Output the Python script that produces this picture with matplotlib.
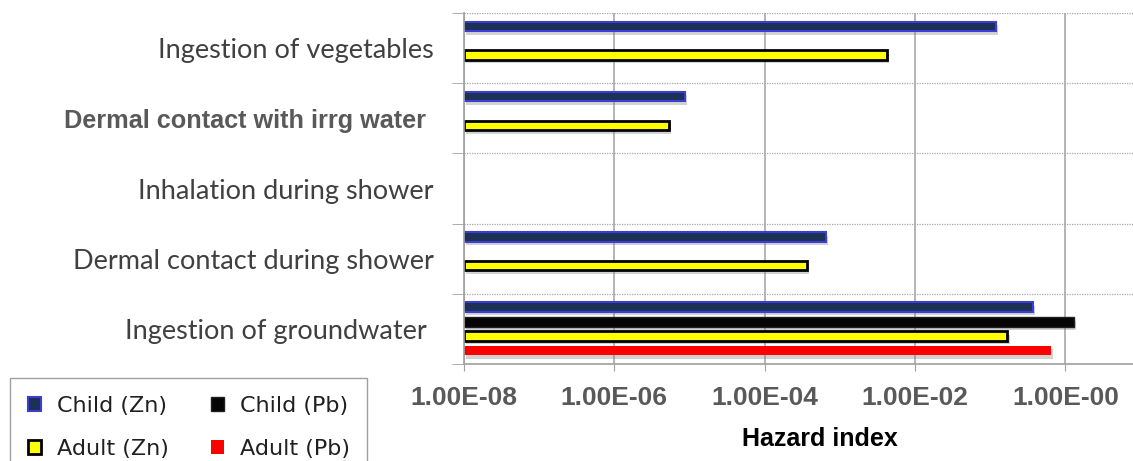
import numpy as np
import matplotlib
matplotlib.use("Agg")
import matplotlib.pyplot as plt
import matplotlib.patheffects as pe
from matplotlib.patches import Rectangle

# hazard index per exposure pathway (NaN = not shown)
categories = ["Ingestion of vegetables",
              "Dermal contact with irrg water ",
              "Inhalation during shower",
              "Dermal contact during shower",
              "Ingestion of groundwater "]
child_zn = [1.2e-1, 8.7e-6, np.nan, 6.5e-4, 3.7e-1]
child_pb = [np.nan, np.nan, np.nan, np.nan, 1.3]
adult_zn = [4.2e-3, 5.3e-6, np.nan, 3.7e-4, 1.7e-1]
adult_pb = [np.nan, np.nan, np.nan, np.nan, 6.5e-1]
series_names = ["Child (Zn)", "Child (Pb)", "Adult (Zn)", "Adult (Pb)"]
xtick_vals = [1e-8, 1e-6, 1e-4, 1e-2, 1e0]
xtick_labels = ["1.00E-08", "1.00E-06", "1.00E-04", "1.00E-02", "1.00E-00"]

styles = [dict(facecolor="#1c3153", edgecolor="#3c3cd8", linewidth=1.5),
          dict(facecolor="#050505", edgecolor="#202020", linewidth=1.0),
          dict(facecolor="#ffff00", edgecolor="#000000", linewidth=2.0),
          dict(facecolor="#ff0000", edgecolor="none", linewidth=0)]
offsets = [-0.31, -0.10, 0.10, 0.31]
bar_h = 0.135
xmin, xmax = 1e-8, 10 ** 0.9

fig = plt.figure(figsize=(11.33, 4.61), dpi=100)
ax = fig.add_axes([0.4095, 0.2104, 0.5905, 0.7614])
ax.set_xscale("log")

shadow = [pe.SimplePatchShadow(offset=(1.5, -2.5), shadow_rgbFace="gray", alpha=0.35), pe.Normal()]
y = np.arange(len(categories))
for vals, off, st in zip([child_zn, child_pb, adult_zn, adult_pb], offsets, styles):
    vals = np.array(vals)
    ok = ~np.isnan(vals)
    bars = ax.barh(y[ok] + off, vals[ok] - xmin, left=xmin, height=bar_h, **st)
    for b in bars:
        b.set_path_effects(shadow)

ax.set_xlim(xmin, xmax)
ax.set_ylim(len(categories) - 0.5, -0.5)

# x axis
ax.set_xticks(xtick_vals)
ax.set_xticklabels(xtick_labels)
ax.xaxis.set_minor_locator(matplotlib.ticker.NullLocator())
ax.tick_params(axis="x", which="major", length=5, color="#a0a0a0", pad=11,
               labelsize=19, labelcolor="#595959")
for t in ax.get_xticklabels():
    t.set_fontfamily("Liberation Sans")
    t.set_fontweight("bold")
ax.grid(axis="x", which="major", color="#a8a8a8", linewidth=1.2)

# y axis: labels at centres, separators at band edges
ax.set_yticks(y)
ax.set_yticklabels(categories)
ax.set_yticks(np.arange(len(categories) + 1) - 0.5, minor=True)
ax.tick_params(axis="y", which="major", length=0, pad=22, labelsize=19.5, labelcolor="#404040")
ax.tick_params(axis="y", which="minor", length=9, color="#a0a0a0")
ax.grid(axis="y", which="minor", color="#a8a8a8", linestyle=(0, (1, 1)), linewidth=0.9)
for i, t in enumerate(ax.get_yticklabels()):
    if i == 1:
        t.set_fontfamily("Liberation Sans")
        t.set_fontweight("bold")
        t.set_fontsize(18.2)
        t.set_color("#595959")
    else:
        t.set_fontfamily("Lato")

ax.set_axisbelow(True)
for s in ["top", "right"]:
    ax.spines[s].set_visible(False)
for s in ["left", "bottom"]:
    ax.spines[s].set_color("#a0a0a0")
    ax.spines[s].set_linewidth(1.2)

fig.text(0.724, 0.048, "Hazard index", ha="center", va="center",
         fontsize=18, fontweight="bold", family="Liberation Sans")

handles = [Rectangle((0, 0), 1, 1, **st) for st in styles]
order = [0, 2, 1, 3]
leg = fig.legend([handles[i] for i in order], [series_names[i] for i in order],
                 loc="upper left", bbox_to_anchor=(0.0088, 0.18), ncol=2,
                 fancybox=False, edgecolor="#a0a0a0", framealpha=1,
                 prop={"family": "DejaVu Sans", "size": 16},
                 handlelength=0.6, handleheight=0.6, handletextpad=0.7,
                 columnspacing=1.9, labelspacing=1.05, borderpad=0.8, borderaxespad=0)
leg.get_frame().set_linewidth(1.0)
for t in leg.get_texts():
    t.set_color("#202020")

fig.savefig("out.png", dpi=100)
